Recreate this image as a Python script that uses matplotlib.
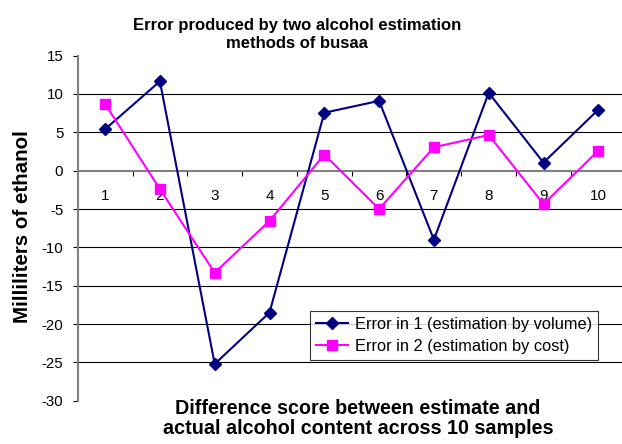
import numpy as np
import matplotlib
matplotlib.use('Agg')
import matplotlib.pyplot as plt

plt.rcParams['font.family'] = ['Liberation Sans', 'DejaVu Sans']
plt.rcParams['axes.unicode_minus'] = False

# values
samples = [1, 2, 3, 4, 5, 6, 7, 8, 9, 10]
error_volume = [5.4, 11.65, -25.2, -18.5, 7.55, 9.1, -9.0, 10.15, 1.05, 7.95]
error_cost = [8.7, -2.4, -13.3, -6.55, 2.1, -5.0, 3.05, 4.65, -4.35, 2.6]
y_ticks = [15, 10, 5, 0, -5, -10, -15, -20, -25, -30]
grid_levels = [10, 5, -5, -10, -15, -20, -25]

W, H = 622, 444
fig = plt.figure(figsize=(W / 100, H / 100), dpi=100)
ax = fig.add_axes([77.7 / W, 1 - 400.8 / H, 548 / W, (400.8 - 55.6) / H])

for g in grid_levels:
    ax.axhline(g, color='black', linewidth=0.8, zorder=1)

ax.plot(samples, error_volume, color='#000080', linewidth=1.5, marker='D',
        markersize=6, label='Error in 1 (estimation by volume)', zorder=3)
ax.plot(samples, error_cost, color='#FF00FF', linewidth=1.5, marker='s',
        markersize=7.2, label='Error in 2 (estimation by cost)', zorder=3)

ax.set_xlim(0.5, 10.5)
ax.set_ylim(-30, 15)

ax.spines['top'].set_visible(False)
ax.spines['right'].set_visible(False)
ax.spines['bottom'].set_position(('data', 0))
ax.spines['bottom'].set_color('#808080')
ax.spines['bottom'].set_linewidth(1.5)
ax.spines['left'].set_color('#808080')
ax.spines['left'].set_linewidth(1.5)

ax.set_xticks(samples)
ax.set_xticklabels([str(s) for s in samples])
ax.set_xticks(np.arange(1.5, 10.5, 1.0), minor=True)
ax.tick_params(axis='x', which='major', length=0, pad=13.5, labelsize=11)
ax.tick_params(axis='x', which='minor', length=3.5, direction='out',
               color='black', width=0.8)

ax.set_yticks(y_ticks)
ax.tick_params(axis='y', length=3.6, direction='out', color='black',
               width=0.8, pad=6.8, labelsize=10.8)

leg = ax.legend(loc='upper left', bbox_to_anchor=(310 / W, 1 - 311 / H),
                bbox_transform=fig.transFigure, borderaxespad=0,
                fontsize=11.8, frameon=True, fancybox=False,
                handlelength=1.95, handletextpad=0.45, labelspacing=0.45,
                borderpad=0.35)
leg.get_frame().set_edgecolor('black')
leg.get_frame().set_linewidth(0.8)

fig.text(297 / W, 1 - 34.5 / H, 'Error produced by two alcohol estimation\nmethods of busaa',
         ha='center', va='center', fontsize=12, fontweight='bold', linespacing=1.3)
fig.text(23 / W, 1 - 227 / H, 'Milliliters of ethanol', rotation=90,
         ha='center', va='center', fontsize=14.8, fontweight='bold')
fig.text(358 / W, 1 - 418.4 / H,
         'Difference score between estimate and\nactual alcohol content across 10 samples',
         ha='center', va='center', fontsize=14.2, fontweight='bold', linespacing=1.05)

fig.savefig('out.png', dpi=100)
